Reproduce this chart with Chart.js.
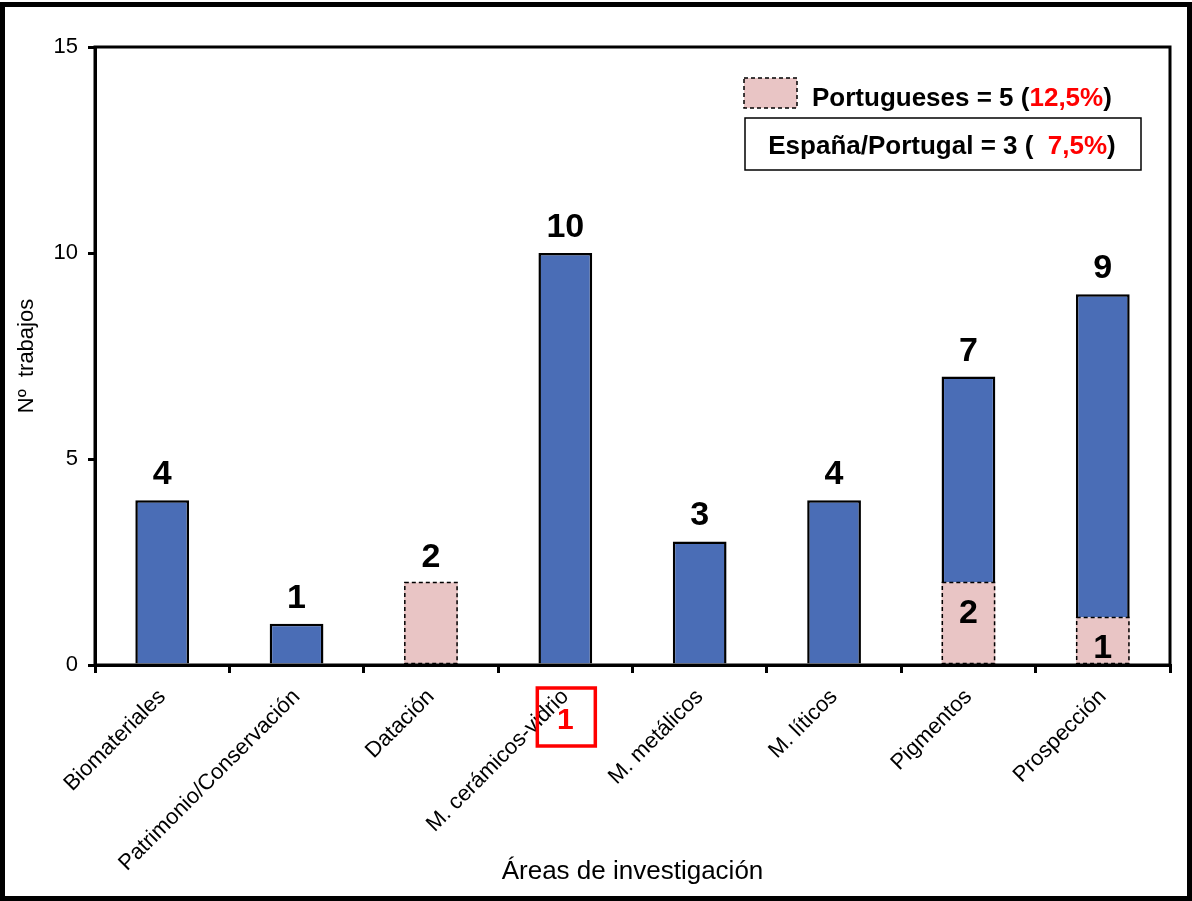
<!DOCTYPE html>
<html>
<head>
<meta charset="utf-8">
<script src="https://cdn.jsdelivr.net/npm/chart.js@4/dist/chart.umd.min.js"></script>
<style>
  html, body { margin: 0; padding: 0; background: #fff; }
  canvas { display: block; }
</style>
</head>
<body>
<canvas id="grafico" width="1192" height="901"></canvas>
<script>
var categorias = ['Biomateriales', 'Patrimonio/Conservación', 'Datación', 'M. cerámicos-vidrio',
	'M. metálicos', 'M. líticos', 'Pigmentos', 'Prospección'];
var totales = [4, 1, 2, 10, 3, 4, 7, 9];
// parte portuguesa (la de Prospección se dibuja algo más alta que 1 en el original)
var portugueses = [0, 0, 2, 0, 0, 0, 2, 1.15];
var etiquetasPt = [null, null, null, null, null, null, '2', '1'];
var ticksY = [0, 5, 10, 15];

var leyendaPt = ['Portugueses = 5 (', '12,5%', ')'];
var leyendaEsPt = ['España/Portugal = 3 (  ', '7,5%', ')'];
var marcaCategoria = 3, marcaTexto = '1';

var azul = '#4a6db6', rosa = '#e9c5c5', rojo = '#ff0000';
var fuente = '"Liberation Sans", Arial, sans-serif';

var restoEspana = totales.map(function(t, i) {
	var r = t - portugueses[i];
	return r > 0 ? r : null;
});

Chart.defaults.font.family = fuente;
Chart.defaults.color = '#000';

//texto con partes de colores distintos
function textoPartes(ctx, partes, x, y) {
	for (var i = 0; i < partes.length; i++) {
		ctx.fillStyle = i === 1 ? rojo : '#000';
		ctx.fillText(partes[i], x, y);
		x += ctx.measureText(partes[i]).width;
	}
}

function anchoPartes(ctx, partes) {
	var w = 0;
	for (var i = 0; i < partes.length; i++) w += ctx.measureText(partes[i]).width;
	return w;
}

var decorado = {
	id: 'decorado',
	afterDatasetsDraw: function(chart) {
		var ctx = chart.ctx,
			meta = chart.getDatasetMeta(0);
		ctx.save();
		ctx.setLineDash([4, 3]);
		ctx.lineWidth = 1.5;
		ctx.strokeStyle = '#000';
		meta.data.forEach(function(bar, i) {
			if (!portugueses[i]) return;
			var p = bar.getProps(['x', 'y', 'base', 'width'], true);
			ctx.strokeRect(p.x - p.width / 2 + 0.75, p.y, p.width - 1.5, p.base - p.y);
		});
		ctx.restore();
	},
	afterDraw: function(chart) {
		var ctx = chart.ctx,
			a = chart.chartArea,
			xs = chart.scales.x,
			ys = chart.scales.y;

		ctx.save();
		//marco del área de datos
		ctx.lineWidth = 3;
		ctx.strokeStyle = '#000';
		ctx.strokeRect(a.left, a.top, a.right - a.left, a.bottom - a.top);

		//etiquetas de valores
		ctx.font = 'bold 34px ' + fuente;
		ctx.textAlign = 'center';
		ctx.textBaseline = 'alphabetic';
		ctx.fillStyle = '#000';
		for (var i = 0; i < categorias.length; i++) {
			var cx = xs.getPixelForValue(i);
			ctx.fillText(String(totales[i]), cx, ys.getPixelForValue(totales[i]) - 16);
			if (etiquetasPt[i]) {
				ctx.fillText(etiquetasPt[i], cx, ys.getPixelForValue(portugueses[i]) + 40);
			}
		}

		//leyenda
		ctx.font = 'bold 26px ' + fuente;
		ctx.textAlign = 'left';
		ctx.fillStyle = rosa;
		ctx.fillRect(744, 78, 53, 30);
		ctx.setLineDash([4, 3]);
		ctx.lineWidth = 1.5;
		ctx.strokeRect(744, 78, 53, 30);
		ctx.setLineDash([]);
		textoPartes(ctx, leyendaPt, 812, 106);

		ctx.lineWidth = 1.5;
		ctx.strokeRect(745, 118, 396, 52);
		var w = anchoPartes(ctx, leyendaEsPt);
		textoPartes(ctx, leyendaEsPt, 942 - w / 2, 154);

		//recuadro rojo
		var mx = xs.getPixelForValue(marcaCategoria);
		ctx.strokeStyle = rojo;
		ctx.lineWidth = 3.5;
		ctx.strokeRect(mx - 28, 688, 58, 58);
		ctx.font = 'bold 30px ' + fuente;
		ctx.textAlign = 'center';
		ctx.fillStyle = rojo;
		ctx.fillText(marcaTexto, mx, 729);

		//marco exterior
		ctx.strokeStyle = '#000';
		ctx.lineWidth = 5;
		ctx.strokeRect(2.5, 4.5, chart.width - 5, chart.height - 7);
		ctx.restore();
	}
};

new Chart(document.getElementById('grafico'), {
	type: 'bar',
	data: {
		labels: categorias,
		datasets: [{
			label: 'Portugueses',
			data: portugueses.map(function(v) { return v || null; }),
			backgroundColor: rosa,
			borderWidth: 0
		}, {
			label: 'España',
			data: restoEspana,
			backgroundColor: azul,
			borderColor: '#000',
			borderWidth: 2.5
		}]
	},
	options: {
		responsive: false,
		animation: false,
		devicePixelRatio: 1,
		barPercentage: 0.8,
		categoryPercentage: 0.5,
		layout: { padding: { left: 14, right: 22, top: 47, bottom: 14 } },
		plugins: { legend: { display: false }, tooltip: { enabled: false } },
		scales: {
			x: {
				stacked: true,
				afterFit: function(s) { s.height = 901 - 665 - 14; },
				grid: { drawOnChartArea: false, drawTicks: true, tickLength: 8, color: '#000', lineWidth: 3, offset: true },
				border: { color: '#000', width: 3 },
				ticks: { font: { size: 22 }, minRotation: 45, maxRotation: 45, padding: 11, color: '#000' },
				title: { display: true, text: 'Áreas de investigación', font: { size: 26 }, padding: { top: 0, bottom: 0 } }
			},
			y: {
				stacked: true,
				min: 0,
				max: 15,
				afterFit: function(s) { s.width = 95 - 14; },
				afterBuildTicks: function(s) { s.ticks = ticksY.map(function(v) { return { value: v }; }); },
				grid: { drawOnChartArea: false, drawTicks: true, tickLength: 7, color: '#000', lineWidth: 3 },
				border: { color: '#000', width: 3 },
				ticks: { font: { size: 22 }, padding: 10, color: '#000' },
				title: { display: true, text: 'Nº  trabajos', font: { size: 22 }, padding: { top: 0, bottom: 0 } }
			}
		}
	},
	plugins: [decorado]
});
</script>
</body>
</html>
